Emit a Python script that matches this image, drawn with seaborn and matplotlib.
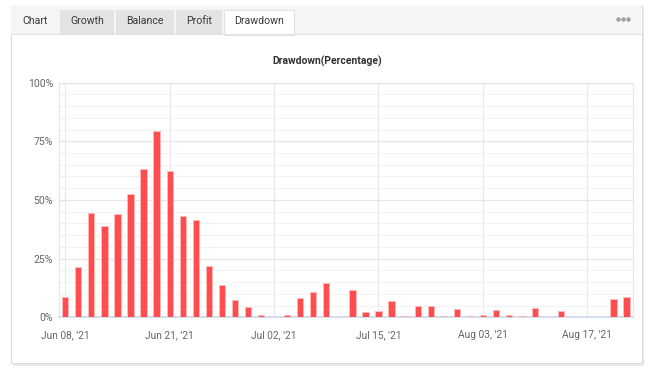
import numpy as np
import pandas as pd
import matplotlib
matplotlib.use("Agg")
import matplotlib.pyplot as plt
from matplotlib.patches import Rectangle
import seaborn as sns

# drawdown per period, percent
drawdown = [8.5, 21.6, 44.6, 38.9, 44.1, 52.5, 63.3, 79.4, 62.2, 43.0,
            41.6, 22.0, 13.6, 7.4, 4.4, 1.0, 0.3, 1.0, 8.2, 10.9,
            14.7, 0.0, 11.8, 2.4, 2.8, 6.8, 0.7, 4.8, 4.8, 0.7,
            3.5, 0.6, 0.9, 3.1, 0.9, 0.6, 4.0, 0.3, 2.8, 0.0,
            0.3, 0.3, 7.8, 8.6]
periods = list(range(len(drawdown)))
tick_pos = [0, 8, 16, 24, 32, 40]
tick_labels = ["Jun 08, '21", "Jun 21, '21", "Jul 02, '21", "Jul 15, '21",
               "Aug 03, '21", "Aug 17, '21"]
y_ticks = [0, 25, 50, 75, 100]
y_labels = ["0%", "25%", "50%", "75%", "100%"]
tabs = ["Chart", "Growth", "Balance", "Profit", "Drawdown"]

sns.set_style("white")
plt.rcParams["font.family"] = ["Roboto", "DejaVu Sans"]

W, H = 655, 371
fig = plt.figure(figsize=(W / 100, H / 100), dpi=100)

# card / tab bar drawn in pixel coordinates
bg = fig.add_axes([0, 0, 1, 1], zorder=-1)
bg.set_xlim(0, W)
bg.set_ylim(H, 0)
bg.axis("off")
bg.add_patch(Rectangle((13, 8), 631, 358, facecolor="#ebebeb", edgecolor="none"))
bg.add_patch(Rectangle((10.5, 5.5), 631, 357, facecolor="white", edgecolor="#dcdcdc", lw=0.8))
bg.add_patch(Rectangle((11, 6), 630, 27.5, facecolor="#f5f5f5", edgecolor="none"))
bg.plot([11, 641], [33.5, 33.5], color="#e2e2e2", lw=0.8)
tab_x = [(11, 59), (60, 114), (116, 174), (176, 222), (224, 294)]
for name, (x0, x1) in zip(tabs, tab_x):
    if name in ("Growth", "Balance", "Profit"):
        bg.add_patch(Rectangle((x0, 10), x1 - x0, 23.5, facecolor="#e3e3e3", edgecolor="none"))
    elif name == "Drawdown":
        bg.add_patch(Rectangle((x0, 10), x1 - x0, 24.5, facecolor="white",
                               edgecolor="#e2e2e2", lw=0.8))
    cx = 35 if name == "Chart" else (x0 + x1) / 2
    bg.text(cx, 21.5, name, ha="center", va="center", fontsize=7.6, color="#3a3a3a")
bg.plot([618, 623, 628], [19, 19, 19], ls="none", marker="o", ms=3.2,
        color="#a0a0a0", mec="none")
bg.text(327, 61, "Drawdown(Percentage)", ha="center", va="center",
        fontsize=7.5, fontweight="bold", color="#333333")

# plot area
left, right, top, bottom = 58.7, 633, 82.6, 317.3
ax = fig.add_axes([left / W, 1 - bottom / H, (right - left) / W, (bottom - top) / H])
df = pd.DataFrame({"period": periods, "drawdown": drawdown})
sns.barplot(data=df, x="period", y="drawdown", color="#ff4d4f", saturation=1,
            width=0.48, edgecolor="#ffb8b8", linewidth=0.7, ax=ax, zorder=3)

ax.set_xlim(-0.5, len(drawdown) - 0.5)
ax.set_ylim(0, 100)
ax.set_xticks(tick_pos)
ax.set_xticklabels(tick_labels, fontsize=7.3, color="#666666")
ax.set_yticks(y_ticks)
ax.set_yticklabels(y_labels, fontsize=7.6, color="#666666")
ax.set_yticks(np.arange(0, 101, 5), minor=True)
ax.tick_params(axis="both", which="both", length=0)
ax.tick_params(axis="x", pad=9)
ax.tick_params(axis="y", pad=4)
ax.grid(axis="y", which="major", color="#e6e6e6", lw=0.9, zorder=0)
ax.grid(axis="y", which="minor", color="#f2f2f2", lw=0.8, zorder=0)
ax.grid(axis="x", which="major", color="#e9e9e9", lw=0.9, zorder=0)
ax.set_axisbelow(True)
ax.set_xlabel("")
ax.set_ylabel("")
for side in ("left", "right", "top"):
    ax.spines[side].set_color("#e6e6e6")
    ax.spines[side].set_linewidth(0.8)
ax.spines["bottom"].set_color("#ccd6eb")
ax.spines["bottom"].set_linewidth(1.2)

fig.savefig("out.png", dpi=100)
